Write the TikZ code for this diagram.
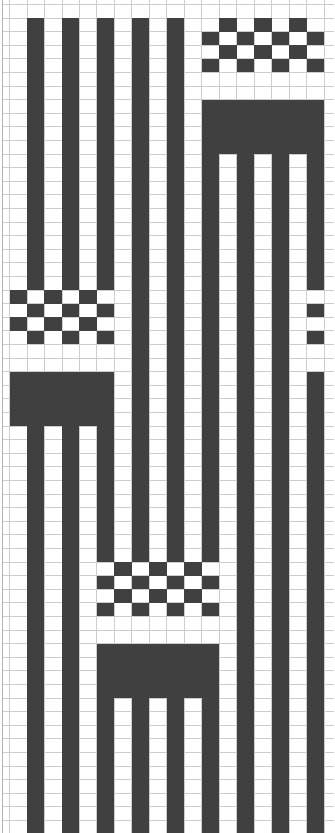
\documentclass[tikz,border=0pt]{standalone}
\usepackage{tikz}

\begin{document}
\begin{tikzpicture}[
  x=17.47pt, y=-13.6pt,
  gridline/.style={draw=black!20,line width=0.8pt},
  edgeline/.style={draw=black!30,line width=1.2pt},
  cellfill/.style={fill=black!75}
]
\useasboundingbox (-0.544,-1.3235) rectangle (18.576,59.926);
\clip (-0.544,-1.3235) rectangle (18.576,59.926);

% squared paper
\foreach \c in {0,...,18}
  \draw[gridline] (\c,-1.4) -- (\c,60);
\foreach \r in {-1,...,59}
  \draw[gridline] (-0.389,\r) -- (18.6,\r);
\draw[edgeline] (-0.389,-1.4) -- (-0.389,60);

% warp stripes on the odd columns, between the motifs
\foreach \c/\a/\b in {1/0/20, 3/0/20, 5/0/20, 7/0/40, 9/0/40,
                      11/6/40, 13/6/60, 15/6/60, 17/6/20,
                      1/26/60, 3/26/60, 5/26/40, 5/46/60,
                      7/46/60, 9/46/60, 11/46/60, 17/26/60}
  \fill[cellfill] (\c,\a) rectangle (\c+1,\b);

% motifs: first row / first column, seven columns wide
\foreach \r/\s in {0/11, 20/17, 40/5}{
  \foreach \k in {0,...,6}{
    \pgfmathtruncatemacro\c{mod(\s+\k,18)}
    \pgfmathtruncatemacro\j{mod(\c,2)}
    % checker
    \fill[cellfill] (\c,\r+\j) rectangle ++(1,1);
    \fill[cellfill] (\c,\r+\j+2) rectangle ++(1,1);
    % block
    \fill[cellfill] (\c,\r+6) rectangle ++(1,4);
  }
}

\end{tikzpicture}
\end{document}
